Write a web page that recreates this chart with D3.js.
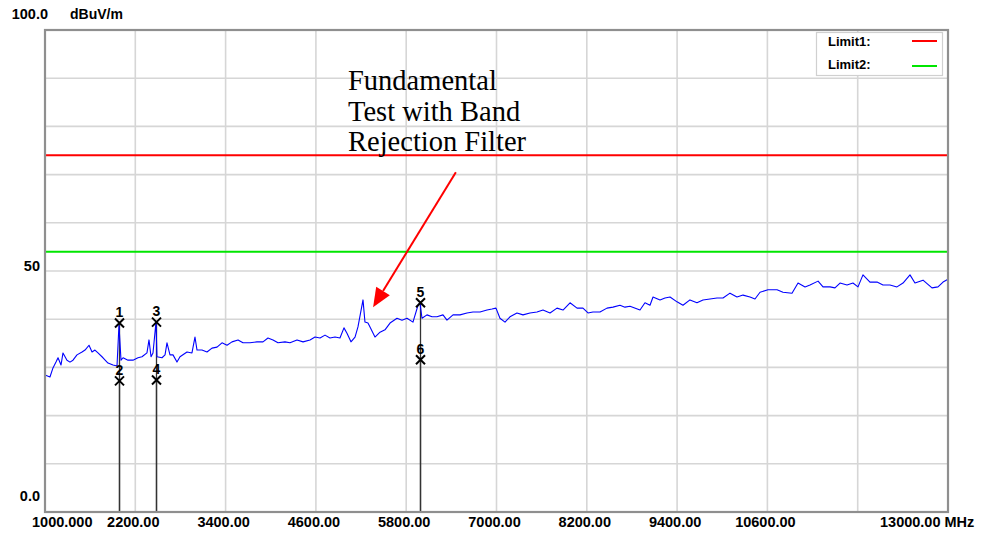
<!DOCTYPE html>
<html>
<head>
<meta charset="utf-8">
<script src="https://cdn.jsdelivr.net/npm/d3@7"></script>
<style>
  body { margin: 0; background: #fff; }
  svg { display: block; }
</style>
</head>
<body>
<svg id="chart" width="982" height="538"></svg>
<script>
// 频率 (MHz)
var freqMHz = [1000,1066,1106,1146,1173,1213,1239,1292,1332,1372,1425,1492,1532,1585,1625,1664,1704,1771,1837,1904,1957,1983,2010,2037,2103,2169,2236,2289,2355,2382,2409,2435,2475,2488,2555,2595,2621,2661,2701,2754,2794,2887,2953,2993,3020,3086,3153,3219,3286,3352,3419,3485,3565,3631,3724,3817,3897,3963,4030,4096,4189,4256,4349,4429,4522,4588,4655,4721,4787,4854,4920,4973,5013,5066,5120,5159,5226,5252,5292,5319,5385,5452,5518,5585,5678,5744,5811,5890,5957,5983,6010,6076,6143,6209,6289,6342,6422,6515,6608,6688,6781,6874,6940,6993,7046,7113,7179,7272,7352,7445,7538,7618,7711,7804,7884,7977,8070,8149,8216,8282,8375,8468,8548,8641,8707,8774,8907,8973,9040,9080,9173,9239,9306,9399,9478,9571,9664,9744,9837,9930,10010,10103,10196,10276,10369,10435,10502,10608,10728,10807,10927,11007,11100,11166,11273,11339,11432,11498,11565,11658,11737,11804,11870,11963,12057,12136,12229,12322,12402,12495,12561,12668,12787,12867,12934,13000];
// 场强 (dBuV/m)
var levelDb = [28.4,28.0,29.9,31.1,32.0,30.5,33.0,31.5,31.1,31.5,32.6,33.2,33.6,34.6,33.2,33.6,33.0,32.0,30.9,30.5,30.3,38.8,31.5,32.0,31.5,31.5,32.0,32.2,33.0,35.7,32.2,33.0,39.4,32.2,32.0,32.6,35.1,32.6,32.6,31.1,32.2,33.2,33.0,36.3,33.6,33.6,33.2,34.0,34.2,35.1,34.6,35.3,35.7,35.1,35.1,35.3,35.3,36.1,35.7,35.1,35.3,35.1,35.7,35.3,35.7,36.3,36.1,36.7,36.1,36.3,36.1,38.2,37.1,35.3,36.3,38.4,44.0,39.4,39.2,38.4,36.3,37.3,37.8,39.2,40.2,39.8,40.2,39.4,42.9,43.4,40.2,40.9,40.5,40.5,40.9,39.8,40.9,40.9,41.3,41.5,41.5,41.9,42.1,42.3,40.2,39.4,40.5,41.3,40.9,41.3,41.5,41.9,41.3,42.3,41.9,43.4,42.3,42.3,41.3,41.5,41.5,42.3,42.5,42.9,42.5,42.7,41.9,43.4,42.9,44.6,44.0,44.4,44.6,43.6,42.9,44.0,43.4,44.0,44.2,44.4,44.4,45.4,44.6,45.0,44.6,44.2,45.6,46.1,46.1,45.6,45.4,47.5,46.7,47.1,47.9,46.7,46.7,46.5,47.5,47.1,47.5,46.7,49.2,47.7,47.7,47.1,47.1,46.7,47.5,49.2,47.5,48.1,46.5,46.7,47.7,48.3];

// 标记点
var markerNo = ["1","2","3","4","5","6"];
var markerFreq = [1983,1983,2475,2475,5983,5983];
var markerLevel = [39.2,27.2,39.4,27.4,43.4,31.6];

// 限值线
var limitNames = ["Limit1:","Limit2:"];
var limitValues = [74,54];
var limitColors = ["#ff0000","#00e600"];

// 坐标轴刻度
var xTickValues = [1000,2200,3400,4600,5800,7000,8200,9400,10600,11800,13000];
var xTickLabels = ["1000.000","2200.00","3400.00","4600.00","5800.00","7000.00","8200.00","9400.00","10600.00","","13000.00 MHz"];
var yGridValues = [0,10,20,30,40,50,60,70,80,90,100];
var yTickValues = [100,50,0];
var yTickLabels = ["100.0","50","0.0"];

// 注释
var noteLines = ["Fundamental","Test with Band","Rejection Filter"];
var arrowTail = [6460,70.5];
var arrowTip = [5360,42.5];

var svg = d3.select("#chart");
var plotL = 45, plotR = 948, plotT = 30, plotB = 512;
var sansFont = "'Liberation Sans', Arial, sans-serif";

var x = d3.scaleLinear().domain([1000,13000]).range([plotL,plotR]);
var y = d3.scaleLinear().domain([0,100]).range([plotB,plotT]);

svg.append("rect").attr("width",982).attr("height",538).attr("fill","#fff");

//网格
var grid = svg.append("g").attr("id","grid");
grid.selectAll("line.v")
    .data(xTickValues.slice(1,-1))
    .enter()
    .append("line")
    .attr("class","v")
    .attr("x1",function (d) { return x(d); })
    .attr("x2",function (d) { return x(d); })
    .attr("y1",plotT).attr("y2",plotB)
    .attr("stroke","#d6d6d6").attr("stroke-width",1.6);
grid.selectAll("line.h")
    .data(yGridValues.slice(1,-1))
    .enter()
    .append("line")
    .attr("class","h")
    .attr("y1",function (d) { return y(d); })
    .attr("y2",function (d) { return y(d); })
    .attr("x1",plotL).attr("x2",plotR)
    .attr("stroke","#d6d6d6").attr("stroke-width",1.6);

//限值线
svg.append("g").selectAll("line")
    .data(limitValues)
    .enter()
    .append("line")
    .attr("x1",plotL).attr("x2",plotR)
    .attr("y1",function (d) { return y(d); })
    .attr("y2",function (d) { return y(d); })
    .attr("stroke",function (d,i) { return limitColors[i]; })
    .attr("stroke-width",2);

//标记竖线
svg.append("g").selectAll("line")
    .data(markerFreq)
    .enter()
    .append("line")
    .attr("x1",function (d) { return Math.round(x(d)) + 0.5; })
    .attr("x2",function (d) { return Math.round(x(d)) + 0.5; })
    .attr("y1",function (d,i) { return y(markerLevel[i]); })
    .attr("y2",plotB)
    .attr("stroke","#333").attr("stroke-width",1.3);

//曲线
var line = d3.line()
    .x(function (d,i) { return x(freqMHz[i]); })
    .y(function (d) { return y(d); });
svg.append("path")
    .datum(levelDb)
    .attr("d",line)
    .attr("fill","none")
    .attr("stroke","#0000ff")
    .attr("stroke-width",1.1)
    .attr("stroke-linejoin","round");

//边框
svg.append("rect")
    .attr("x",plotL).attr("y",plotT)
    .attr("width",plotR-plotL).attr("height",plotB-plotT)
    .attr("fill","none").attr("stroke","#8f8f8f").attr("stroke-width",2.2);

//图例
var lg = svg.append("g").attr("id","legend");
lg.append("rect")
    .attr("x",816.5).attr("y",32.5).attr("width",126).attr("height",43)
    .attr("fill","#fff").attr("stroke","#d0d0d0").attr("stroke-width",1.2);
lg.selectAll("text")
    .data(limitNames)
    .enter()
    .append("text")
    .attr("x",828)
    .attr("y",function (d,i) { return 46 + i*23; })
    .attr("font-family",sansFont)
    .attr("font-size",13).attr("font-weight","bold")
    .text(function (d) { return d; });
lg.selectAll("line")
    .data(limitColors)
    .enter()
    .append("line")
    .attr("x1",912).attr("x2",937)
    .attr("y1",function (d,i) { return 41 + i*25; })
    .attr("y2",function (d,i) { return 41 + i*25; })
    .attr("stroke",function (d) { return d; })
    .attr("stroke-width",2);

//标记点
var mk = svg.append("g").attr("id","markers");
mk.selectAll("path")
    .data(markerFreq)
    .enter()
    .append("path")
    .attr("d",function (d,i) {
        var cx = Math.round(x(d)) + 0.5, cy = y(markerLevel[i]), s = 4.5;
        return "M" + (cx-s) + "," + (cy-s) + "L" + (cx+s) + "," + (cy+s) +
               "M" + (cx+s) + "," + (cy-s) + "L" + (cx-s) + "," + (cy+s);
    })
    .attr("stroke","#000").attr("stroke-width",2).attr("fill","none");
mk.selectAll("text")
    .data(markerNo)
    .enter()
    .append("text")
    .attr("x",function (d,i) { return Math.round(x(markerFreq[i])) + 0.5; })
    .attr("y",function (d,i) { return y(markerLevel[i]) - 6; })
    .attr("text-anchor","middle")
    .attr("font-family",sansFont)
    .attr("font-size",14).attr("font-weight","bold")
    .text(function (d) { return d; });

//注释文字
svg.append("g").selectAll("text")
    .data(noteLines)
    .enter()
    .append("text")
    .attr("x",348)
    .attr("y",function (d,i) { return 90 + i*30.5; })
    .attr("font-family","'Liberation Serif','Times New Roman',serif")
    .attr("font-size",28.5)
    .attr("fill","#000")
    .text(function (d) { return d; });

//箭头
var tx = x(arrowTip[0]), ty = y(arrowTip[1]);
var sx = x(arrowTail[0]), sy = y(arrowTail[1]);
var ang = Math.atan2(ty - sy, tx - sx);
var hl = 19, hw = 8;
var bx = tx - hl*Math.cos(ang), by = ty - hl*Math.sin(ang);
svg.append("line")
    .attr("x1",sx).attr("y1",sy).attr("x2",bx).attr("y2",by)
    .attr("stroke","#ff0000").attr("stroke-width",2);
svg.append("path")
    .attr("d","M" + tx + "," + ty +
        "L" + (bx + hw*Math.sin(ang)) + "," + (by - hw*Math.cos(ang)) +
        "L" + (bx - hw*Math.sin(ang)) + "," + (by + hw*Math.cos(ang)) + "Z")
    .attr("fill","#ff0000");

//X轴标签
svg.append("g").selectAll("text")
    .data(xTickValues)
    .enter()
    .append("text")
    .attr("x",function (d,i) {
        if (i === 0) return 32;
        if (i === xTickValues.length-1) return 880;
        return x(d) - 2;
    })
    .attr("y",527)
    .attr("text-anchor",function (d,i) {
        return (i === 0 || i === xTickValues.length-1) ? "start" : "middle";
    })
    .attr("font-family",sansFont)
    .attr("font-size",14.5).attr("font-weight","bold")
    .text(function (d,i) { return xTickLabels[i]; });

//Y轴标签
svg.append("g").selectAll("text")
    .data(yTickValues)
    .enter()
    .append("text")
    .attr("x",function (d) { return d === 100 ? 48 : 40; })
    .attr("y",function (d) { return d === 50 ? y(d) : y(d) - 11; })
    .attr("text-anchor","end")
    .attr("font-family",sansFont)
    .attr("font-size",14.5).attr("font-weight","bold")
    .text(function (d,i) { return yTickLabels[i]; });
svg.append("text")
    .attr("x",70).attr("y",19)
    .attr("font-family",sansFont)
    .attr("font-size",14).attr("font-weight","bold")
    .text("dBuV/m");
</script>
</body>
</html>
